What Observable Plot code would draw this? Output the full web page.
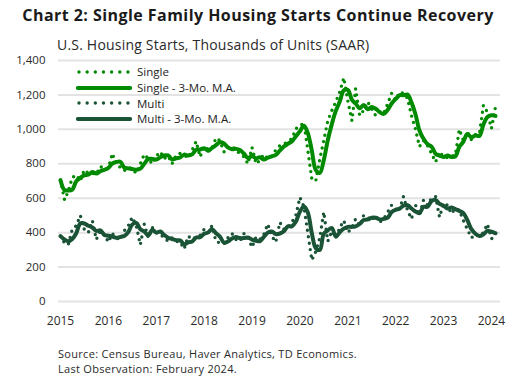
<!DOCTYPE html>
<html>
<head>
<meta charset="utf-8">
<script src="https://cdn.jsdelivr.net/npm/d3@7"></script>
<script src="https://cdn.jsdelivr.net/npm/@observablehq/plot@0.6"></script>
<style>
  html, body { margin: 0; padding: 0; background: #fff; }
  #wrap { position: relative; width: 516px; height: 385px; overflow: hidden; font-family: "Open Sans", sans-serif; color: #222; }
  #wrap svg.plot { position: absolute; left: 0; top: 0; }
  .title { position: absolute; left: 0; width: 516px; top: 4px; text-align: center; font-weight: 700; font-size: 16px; letter-spacing: 0.45px; color: #1a1a1a; white-space: nowrap; }
  .subtitle { position: absolute; left: 57px; top: 35px; font-size: 14px; letter-spacing: 0.2px; color: #2a2a2a; white-space: nowrap; }
  .caption { position: absolute; left: 58px; font-size: 11px; letter-spacing: 0.3px; color: #2a2a2a; white-space: nowrap; }
  .legend { position: absolute; left: 76px; top: 64px; font-size: 11.5px; color: #222; }
  .legend .row { position: relative; height: 15.7px; display: flex; align-items: center; }
  .legend .row svg { width: 56px; height: 10px; margin-right: 5px; }
</style>
</head>
<body>
<div id="wrap">
  <div class="title">Chart 2: Single Family Housing Starts Continue Recovery</div>
  <div class="subtitle">U.S. Housing Starts, Thousands of Units (SAAR)</div>
  <div id="chart"></div>
  <div class="legend" id="legend"></div>
  <div class="caption" style="top:346px">Source: Census Bureau, Haver Analytics, TD Economics.</div>
  <div class="caption" style="top:361px">Last Observation: February 2024.</div>
</div>
<script>
// Monthly single-family starts, Jan 2015 - Feb 2024 (thousands, SAAR)
const singleStarts = [
  705, 590, 640, 720, 735, 700, 765, 745, 745, 740, 785, 770,   // 2015
  775, 860, 795, 780, 760, 780, 770, 745, 800, 855, 830, 800,   // 2016
  845, 870, 830, 845, 800, 850, 860, 850, 835, 880, 930, 840,   // 2017
  900, 885, 890, 950, 935, 870, 880, 905, 875, 860, 840, 800,   // 2018
  895, 800, 820, 855, 830, 845, 880, 905, 915, 930, 945, 1003,  // 2019
  1020, 1038, 880, 712, 700, 828, 935, 1051, 1110, 1160, 1220, 1300, // 2020
  1165, 1050, 1236, 1080, 1110, 1160, 1120, 1080, 1100, 1090, 1150, 1210, // 2021
  1170, 1215, 1210, 1180, 1080, 1000, 900, 935, 905, 860, 810, 870, // 2022
  840, 835, 845, 850, 1000, 935, 985, 940, 970, 975, 1140, 1100, // 2023
  1005, 1130 // 2024
];
// Monthly multi-family starts, Jan 2015 - Feb 2024
const multiStarts = [
  380, 340, 330, 420, 440, 500, 420, 400, 470, 360, 410, 390,   // 2015
  345, 395, 370, 360, 410, 440, 490, 440, 330, 450, 370, 430,   // 2016
  400, 390, 370, 350, 370, 350, 345, 305, 380, 360, 375, 385,   // 2017
  420, 400, 440, 350, 340, 335, 370, 395, 360, 350, 395, 370,   // 2018
  315, 375, 360, 390, 450, 380, 345, 460, 420, 430, 460, 500,   // 2019
  605, 550, 400, 240, 290, 370, 520, 350, 410, 370, 430, 470,   // 2020
  400, 430, 480, 440, 500, 490, 470, 500, 460, 480, 520, 560,   // 2021
  520, 540, 610, 530, 480, 560, 500, 590, 560, 600, 610, 490,   // 2022
  570, 560, 510, 540, 530, 470, 420, 370, 390, 380, 400, 450,   // 2023
  365, 375 // 2024
];
const yTicks = [0, 200, 400, 600, 800, 1000, 1200, 1400];
const xTickYears = [2015, 2016, 2017, 2018, 2019, 2020, 2021, 2022, 2023, 2024];
const seriesNames = ["Single", "Single - 3-Mo. M.A.", "Multi", "Multi - 3-Mo. M.A."];
const colorSingle = "#008a00";
const colorMulti = "#1a5336";

const months = d3.utcMonth.range(new Date(Date.UTC(2015, 0, 1)), new Date(Date.UTC(2024, 2, 1)));
const data = months.map((d, i) => ({date: d, single: singleStarts[i], multi: multiStarts[i]}));
const xTicks = xTickYears.map(y => new Date(Date.UTC(y, 0, 1)));

const dotted = {strokeWidth: 3.4, strokeDasharray: "0 6.5", strokeLinecap: "round"};

const chart = Plot.plot({
  width: 516,
  height: 385,
  marginLeft: 58,
  marginRight: 16,
  marginTop: 60,
  marginBottom: 84,
  style: {fontFamily: "'Open Sans', sans-serif", fontSize: "11.5px", color: "#2a2a2a", background: "transparent"},
  x: {type: "utc", domain: [months[0], months[months.length - 1]], insetLeft: 2, insetRight: 5},
  y: {domain: [0, 1400]},
  marks: [
    Plot.ruleY(yTicks, {stroke: "#e3e3e3", strokeWidth: 2}),
    Plot.axisY({ticks: yTicks, tickSize: 0, tickPadding: 13, tickFormat: d3.format(","), label: null, fontSize: 11.5}),
    Plot.axisX({ticks: xTicks, tickSize: 0, tickPadding: 15, tickFormat: d3.utcFormat("%Y"), label: null, fontSize: 12}),
    Plot.lineY(data, {x: "date", y: "single", stroke: colorSingle, ...dotted}),
    Plot.lineY(data, Plot.windowY({k: 3, anchor: "end", reduce: "mean"}, {x: "date", y: "single", stroke: colorSingle, strokeWidth: 4, curve: "catmull-rom"})),
    Plot.lineY(data, {x: "date", y: "multi", stroke: colorMulti, ...dotted}),
    Plot.lineY(data, Plot.windowY({k: 3, anchor: "end", reduce: "mean"}, {x: "date", y: "multi", stroke: colorMulti, strokeWidth: 4, curve: "catmull-rom"}))
  ]
});
chart.classList.add("plot");
document.getElementById("chart").appendChild(chart);

// Legend
const legendStyles = [
  {color: colorSingle, dotted: true},
  {color: colorSingle, dotted: false},
  {color: colorMulti, dotted: true},
  {color: colorMulti, dotted: false}
];
const legend = document.getElementById("legend");
seriesNames.forEach((name, i) => {
  const s = legendStyles[i];
  const row = document.createElement("div");
  row.className = "row";
  const line = s.dotted
    ? `<line x1="3" x2="52" y1="5" y2="5" stroke="${s.color}" stroke-width="3.4" stroke-dasharray="0 8.16" stroke-linecap="round"/>`
    : `<line x1="2" x2="54" y1="5" y2="5" stroke="${s.color}" stroke-width="4.2" stroke-linecap="round"/>`;
  row.innerHTML = `<svg viewBox="0 0 56 10">${line}</svg><span>${name}</span>`;
  legend.appendChild(row);
});
</script>
</body>
</html>
